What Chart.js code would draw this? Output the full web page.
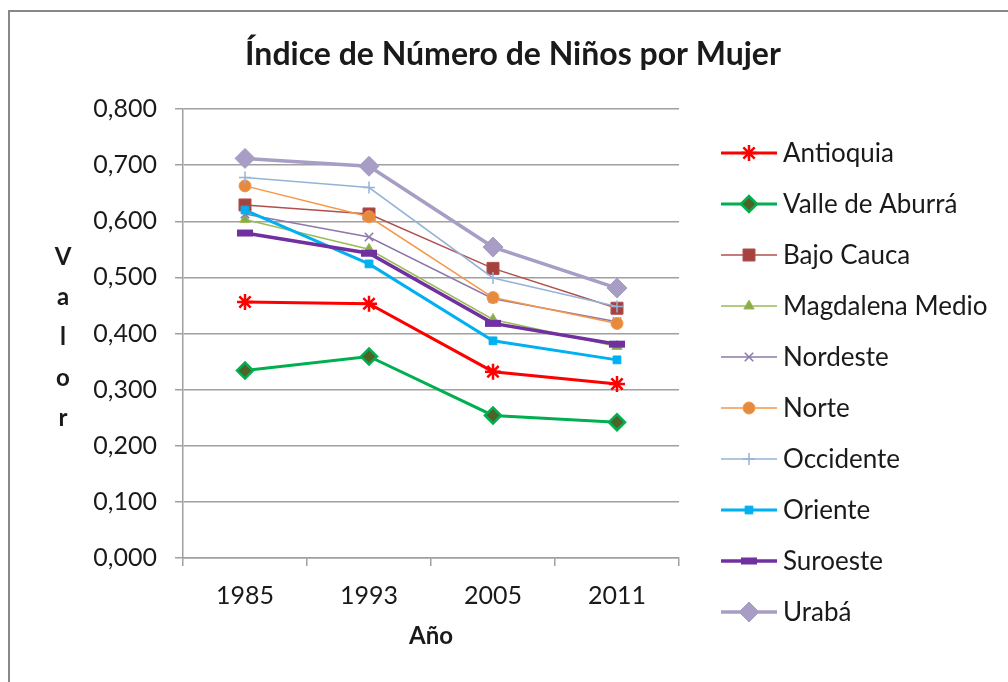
<!DOCTYPE html>
<html>
<head>
<meta charset="utf-8">
<script src="https://cdn.jsdelivr.net/npm/chart.js@4/dist/chart.umd.min.js"></script>
<style>
  html, body { margin: 0; padding: 0; background: #fff; }
  #frame {
    position: absolute; left: 8px; top: 10px; width: 1100px; height: 800px;
    border-left: 2px solid #888; border-top: 2px solid #888;
  }
  #wrap { position: absolute; left: 0; top: 0; width: 1008px; height: 682px; }
</style>
</head>
<body>
<div id="frame"></div>
<div id="wrap"><canvas id="chart-ninos"></canvas></div>
<script>
// Índice de Número de Niños por Mujer, por subregión
const years = ['1985', '1993', '2005', '2011'];
const regions = ['Antioquia', 'Valle de Aburrá', 'Bajo Cauca', 'Magdalena Medio', 'Nordeste',
  'Norte', 'Occidente', 'Oriente', 'Suroeste', 'Urabá'];

const antioquia   = [0.456, 0.453, 0.332, 0.310];
const valleAburra = [0.334, 0.359, 0.254, 0.242];
const bajoCauca   = [0.629, 0.613, 0.516, 0.445];
const magdalena   = [0.603, 0.550, 0.425, 0.377];
const nordeste    = [0.613, 0.572, 0.462, 0.421];
const norte       = [0.663, 0.608, 0.464, 0.418];
const occidente   = [0.678, 0.660, 0.499, 0.448];
const oriente     = [0.620, 0.524, 0.387, 0.353];
const suroeste    = [0.579, 0.543, 0.418, 0.381];
const uraba       = [0.712, 0.698, 0.554, 0.481];

const yTicks = [0, 0.1, 0.2, 0.3, 0.4, 0.5, 0.6, 0.7, 0.8];

const FONT = 'Lato, "Open Sans", sans-serif';
const TEXT = '#1a1a1a';
const GRID = '#a0a0a0';

// look of each series (Excel-like markers)
const styles = [
  { color: '#ff0000', fill: '#ff0000', width: 3,   point: 'star',     radius: 8,  pw: 2.5 },
  { color: '#00b050', fill: '#4f6228', width: 3,   point: 'rectRot',  radius: 8,  pw: 2.5 },
  { color: '#b0504d', fill: '#a5423f', width: 1.5, point: 'rect',     radius: 8.5, pw: 1 },
  { color: '#9bbb59', fill: '#8aab4a', width: 1.5, point: 'triangle', radius: 6,  pw: 1 },
  { color: '#8c78ab', fill: '#8c78ab', width: 1.5, point: 'crossRot', radius: 6,  pw: 1.5 },
  { color: '#f79646', fill: '#e58a3f', width: 1.5, point: 'circle',   radius: 6,  pw: 1 },
  { color: '#95b3d7', fill: '#95b3d7', width: 1.5, point: 'cross',    radius: 6,  pw: 1.5 },
  { color: '#00b0f0', fill: '#00b0f0', width: 3,   point: 'rect',     radius: 5.5, pw: 1 },
  { color: '#7030a0', fill: '#7030a0', width: 3.5, point: 'line',     radius: 8,  pw: 7 },
  { color: '#a79dc5', fill: '#a79dc5', width: 3.5, point: 'rectRot',  radius: 10, pw: 1 }
];

const seriesValues = [antioquia, valleAburra, bajoCauca, magdalena, nordeste,
  norte, occidente, oriente, suroeste, uraba];

const datasets = regions.map((name, i) => {
  const s = styles[i];
  return {
    label: name,
    data: seriesValues[i],
    borderColor: s.color,
    borderWidth: s.width,
    backgroundColor: s.fill,
    pointStyle: s.point,
    pointRadius: s.radius,
    pointHoverRadius: s.radius,
    pointBorderWidth: s.pw,
    pointBorderColor: s.color,
    pointBackgroundColor: s.fill,
    tension: 0,
    order: regions.length - i   // last series painted on top, as in Excel
  };
});

function fmt(v) {
  return v.toFixed(3).replace('.', ',');
}

// title, vertical "Valor" and the legend with line + marker
const decorations = {
  id: 'decorations',
  afterDraw(chart) {
    const ctx = chart.ctx;
    ctx.save();
    ctx.fillStyle = TEXT;
    ctx.textBaseline = 'middle';

    ctx.font = 'bold 32px ' + FONT;
    ctx.textAlign = 'center';
    ctx.fillText('Índice de Número de Niños por Mujer', 513, 55);

    ctx.font = 'bold 24px ' + FONT;
    ['V', 'a', 'l', 'o', 'r'].forEach((ch, k) => ctx.fillText(ch, 63, 257 + k * 40.3));

    ctx.font = '26px ' + FONT;
    ctx.textAlign = 'left';
    chart.data.datasets.forEach((ds, i) => {
      const y = 153 + i * 51;
      ctx.strokeStyle = ds.borderColor;
      ctx.lineWidth = ds.borderWidth;
      ctx.beginPath();
      ctx.moveTo(721, y);
      ctx.lineTo(777, y);
      ctx.stroke();

      ctx.fillStyle = ds.pointBackgroundColor;
      ctx.strokeStyle = ds.pointBorderColor;
      ctx.lineWidth = ds.pointBorderWidth;
      Chart.helpers.drawPoint(ctx, {
        pointStyle: ds.pointStyle, rotation: 0,
        radius: ds.pointRadius, borderWidth: ds.pointBorderWidth
      }, 749, y);

      ctx.fillStyle = TEXT;
      ctx.fillText(ds.label, 783, y + 1);
    });
    ctx.restore();
  }
};

new Chart(document.getElementById('chart-ninos'), {
  type: 'line',
  data: { labels: years, datasets },
  plugins: [decorations],
  options: {
    responsive: true,
    maintainAspectRatio: false,
    animation: false,
    layout: { padding: { top: 109, right: 329, left: 0, bottom: 0 } },
    plugins: {
      legend: { display: false },
      title: { display: false },
      tooltip: { enabled: false }
    },
    scales: {
      x: {
        offset: true,
        grid: { display: true, drawOnChartArea: false, drawTicks: true, tickLength: 8, color: GRID, lineWidth: 1.5, offset: true },
        border: { display: true, color: GRID, width: 1.5 },
        ticks: { color: TEXT, font: { family: FONT, size: 25 }, padding: 15, maxRotation: 0 },
        title: { display: true, text: 'Año', color: TEXT, font: { family: FONT, size: 24, weight: 'bold' }, padding: { top: 4, bottom: 31 } },
        afterFit(scale) { scale.height = 124; }
      },
      y: {
        min: 0,
        max: 0.8,
        afterBuildTicks(scale) { scale.ticks = yTicks.map(v => ({ value: v })); },
        grid: { color: GRID, lineWidth: 1.5, tickLength: 8 },
        border: { display: true, color: GRID, width: 1.5 },
        ticks: { color: TEXT, font: { family: FONT, size: 25 }, padding: 18, callback: v => fmt(v) },
        afterFit(scale) { scale.width = 183; }
      }
    }
  }
});
</script>
</body>
</html>
